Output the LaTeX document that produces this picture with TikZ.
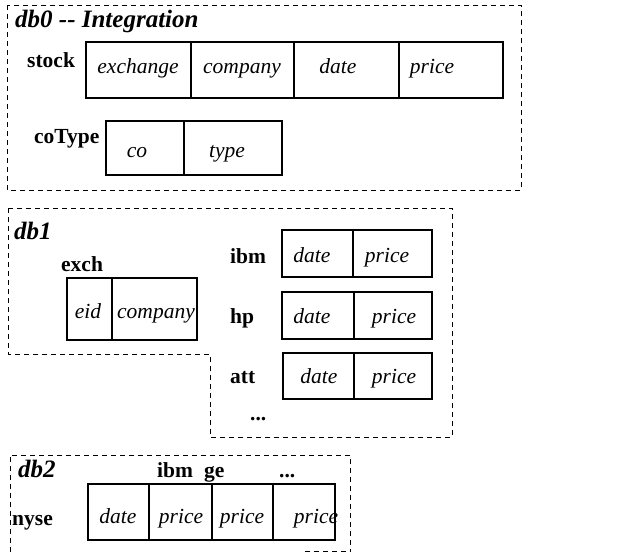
\documentclass[tikz,border=0pt]{standalone}
\usepackage{fontspec}
\setmainfont{Liberation Serif}
\begin{document}
\begin{tikzpicture}[x=1pt,y=-1pt,
  every node/.style={inner sep=0pt, font=\fontsize{21.5}{25}\selectfont},
  box/.style={draw, line width=0.9pt, dash pattern=on 5pt off 4pt},
  tbl/.style={draw, line width=1.3pt},
  lbl/.style={anchor=base west, font=\fontsize{21.5}{25}\selectfont\bfseries},
  ttl/.style={anchor=base west, font=\fontsize{25}{29}\selectfont\bfseries\itshape},
  fld/.style={anchor=base, font=\fontsize{21.5}{25}\selectfont\itshape}]
\useasboundingbox (0,0) rectangle (620,552);
% db0
\draw[box] (7,5) rectangle (521,190);
\node[ttl] (t0) at (15,27) {db0 -{}- Integration};
\node[lbl] (stock) at (27,67) {stock};
\draw[tbl] (86,42) rectangle (503,98);
\draw[tbl] (191,42) -- (191,98) (294,42) -- (294,98) (399,42) -- (399,98);
\node[fld] (s1) at (138,73) {exchange};
\node[fld] (s2) at (242,73) {company};
\node[fld] (s3) at (338,73) {date};
\node[fld] (s4) at (432,73) {price};
\node[lbl] (cotype) at (34,143) {coType};
\draw[tbl] (106,121) rectangle (282,175);
\draw[tbl] (184,121) -- (184,175);
\node[fld] (c1) at (137,157) {co};
\node[fld] (c2) at (227,157) {type};
% db1
\draw[box] (8,208) -- (452,208) -- (452,437) -- (210,437) -- (210,354) -- (8,354) -- cycle;
\node[ttl] (t1) at (14,239) {db1};
\node[lbl] (exch) at (61,271) {exch};
\draw[tbl] (67,278) rectangle (197,340);
\draw[tbl] (112,278) -- (112,340);
\node[fld] (e1) at (88,318) {eid};
\node[fld] (e2) at (156,318) {company};
\node[lbl] (ibm1) at (230,263) {ibm};
\draw[tbl] (282,230) rectangle (432,277);
\draw[tbl] (353,230) -- (353,277);
\node[fld] (i1) at (312,262) {date};
\node[fld] (i2) at (387,262) {price};
\node[lbl] (hp) at (230,323) {hp};
\draw[tbl] (282,292) rectangle (432,339);
\draw[tbl] (354,292) -- (354,339);
\node[fld] (h1) at (312,323) {date};
\node[fld] (h2) at (394,323) {price};
\node[lbl] (att) at (230,383) {att};
\draw[tbl] (283,353) rectangle (432,399);
\draw[tbl] (354,353) -- (354,399);
\node[fld] (a1) at (319,383) {date};
\node[fld] (a2) at (394,383) {price};
\node[lbl] (dots1) at (250,420) {...};
% db2
\draw[box] (10,552) -- (10,455) -- (350,455) -- (350,552);
\draw[box] (305,551) -- (350,551);
\node[ttl] (t2) at (18,477) {db2};
\node[lbl] (ibm2) at (157,477) {ibm};
\node[lbl] (ge) at (204,477) {ge};
\node[lbl] (dots2) at (279,477) {...};
\node[lbl] (nyse) at (12,525) {nyse};
\draw[tbl] (88,484) rectangle (335,540);
\draw[tbl] (149,484) -- (149,540) (212,484) -- (212,540) (273,484) -- (273,540);
\node[fld] (n1) at (118,523) {date};
\node[fld] (n2) at (181,523) {price};
\node[fld] (n3) at (242,523) {price};
\node[fld] (n4) at (316,523) {price};
\end{tikzpicture}
\end{document}
